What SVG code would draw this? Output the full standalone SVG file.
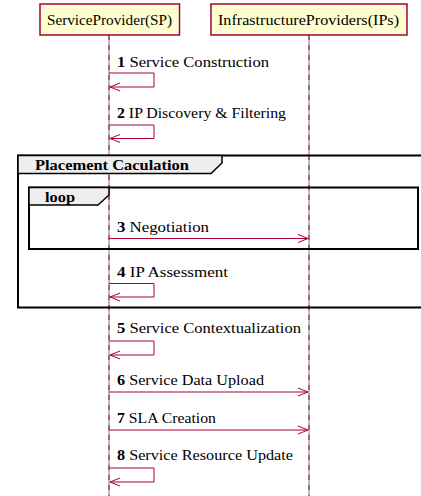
<svg xmlns="http://www.w3.org/2000/svg" width="421" height="496" viewBox="0 0 421 496">
<style>
.t{font-family:"Liberation Serif","Times New Roman",serif;font-size:14px;fill:#000}
.b{font-weight:bold}
.part{fill:#FEFECE;stroke:#A80036;stroke-width:1.5}
.life{stroke:#A80036;stroke-width:1;stroke-dasharray:5,5}
.lifeb{stroke:#777;stroke-width:1}
.msg{fill:none;stroke:#A80036;stroke-width:1}
.frame{fill:none;stroke:#000;stroke-width:2}
.tab{fill:#EEEEEE;stroke:#000;stroke-width:1.5}
</style>
<g id="lifelines">
<line class="lifeb" x1="109" y1="35" x2="109" y2="496"/>
<line class="life" x1="109" y1="35" x2="109" y2="496"/>
<line class="lifeb" x1="309" y1="35" x2="309" y2="496"/>
<line class="life" x1="309" y1="35" x2="309" y2="496"/>
</g>
<g id="frame-placement">
<rect class="frame" x="18" y="155.5" width="420" height="152"/>
<path class="tab" d="M18,155.5 H222 V163 L211,173.5 H18 Z"/>
<text class="t b" x="35" y="170" textLength="154" lengthAdjust="spacingAndGlyphs">Placement Caculation</text>
</g>
<g id="frame-loop">
<rect class="frame" x="29" y="187.5" width="389" height="61.5"/>
<path class="tab" d="M29,187.5 H109 V195 L98,205 H29 Z"/>
<text class="t b" x="45" y="201.5" textLength="30" lengthAdjust="spacingAndGlyphs">loop</text>
</g>
<g id="SP">
<rect class="part" x="40" y="4" width="139.5" height="31"/>
<text class="t" x="47" y="25" textLength="125" lengthAdjust="spacingAndGlyphs">ServiceProvider(SP)</text>
</g>
<g id="IPs">
<rect class="part" x="211" y="4" width="196" height="31"/>
<text class="t" x="218" y="25" textLength="181" lengthAdjust="spacingAndGlyphs">InfrastructureProviders(IPs)</text>
</g>
<g id="connectors">
<path class="msg" d="M109,73 H154 V87 H110 M120,83 L110,87 L120,91"/>
<path class="msg" d="M109,125 H154 V138.5 H110 M120,134.5 L110,138.5 L120,142.5"/>
<path class="msg" d="M109,238.5 H308 M298,234.5 L308,238.5 L298,242.5"/>
<path class="msg" d="M109,283.5 H154 V297 H110 M120,293 L110,297 L120,301"/>
<path class="msg" d="M109,341 H154 V355 H110 M120,351 L110,355 L120,359"/>
<path class="msg" d="M109,392 H308 M298,388 L308,392 L298,396"/>
<path class="msg" d="M109,430 H308 M298,426 L308,430 L298,434"/>
<path class="msg" d="M109,468 H154 V482 H110 M120,478 L110,482 L120,486"/>
<text class="t" x="117" y="67" textLength="152" lengthAdjust="spacingAndGlyphs"><tspan class="b">1</tspan> Service Construction</text>
<text class="t" x="117" y="118" textLength="169" lengthAdjust="spacingAndGlyphs"><tspan class="b">2</tspan> IP Discovery &amp; Filtering</text>
<text class="t" x="117" y="232" textLength="92" lengthAdjust="spacingAndGlyphs"><tspan class="b">3</tspan> Negotiation</text>
<text class="t" x="117" y="277" textLength="111" lengthAdjust="spacingAndGlyphs"><tspan class="b">4</tspan> IP Assessment</text>
<text class="t" x="117" y="333" textLength="184" lengthAdjust="spacingAndGlyphs"><tspan class="b">5</tspan> Service Contextualization</text>
<text class="t" x="117" y="385" textLength="147" lengthAdjust="spacingAndGlyphs"><tspan class="b">6</tspan> Service Data Upload</text>
<text class="t" x="117" y="423" textLength="99" lengthAdjust="spacingAndGlyphs"><tspan class="b">7</tspan> SLA Creation</text>
<text class="t" x="117" y="460" textLength="176" lengthAdjust="spacingAndGlyphs"><tspan class="b">8</tspan> Service Resource Update</text>
</g>
</svg>
